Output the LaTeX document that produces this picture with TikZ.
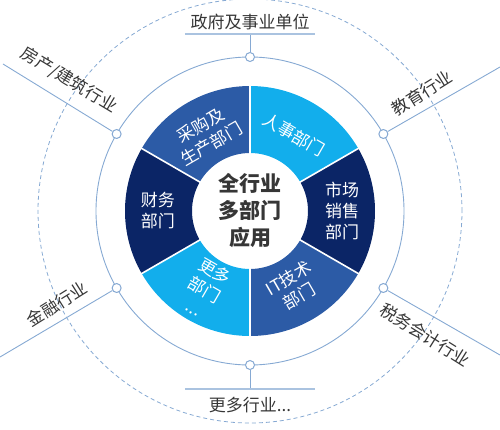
\documentclass[tikz,border=0pt]{standalone}
\usepackage{fontspec}
\setmainfont{Noto Sans CJK SC}
\usepackage{tikz}
\usepackage{xcolor}
\definecolor{lightsky}{HTML}{12AEEC}
\definecolor{midblue}{HTML}{2C5BA6}
\definecolor{deepnavy}{HTML}{0B2566}
\definecolor{ringline}{HTML}{86A9D3}
\definecolor{labelgray}{HTML}{363636}

\tikzset{
  marker/.style={circle,draw=ringline,fill=white,line width=1pt,inner sep=0pt,minimum size=9pt},
  seglabel/.style={white,align=center,font=\fontsize{17}{21}\selectfont},
  trade/.style={labelgray,font=\fontsize{17}{20}\selectfont,inner sep=1pt},
  guide/.style={ringline,line width=0.9pt},
}

\begin{document}
\begin{tikzpicture}[x=1pt,y=1pt]
  \useasboundingbox (-250,-218) rectangle (250,211);
  % rings
  \draw[ringline,dash pattern=on 4pt off 3pt,line width=0.8pt] (0,0) circle[radius=212];
  \draw[guide] (0,0) circle[radius=154];
  % donut
  \fill[midblue] (90:125) arc[start angle=90,end angle=150,radius=125] -- (150:58) arc[start angle=150,end angle=90,radius=58] -- cycle;
  \fill[lightsky] (30:125) arc[start angle=30,end angle=90,radius=125] -- (90:58) arc[start angle=90,end angle=30,radius=58] -- cycle;
  \fill[deepnavy] (-30:125) arc[start angle=-30,end angle=30,radius=125] -- (30:58) arc[start angle=30,end angle=-30,radius=58] -- cycle;
  \fill[midblue] (-90:125) arc[start angle=-90,end angle=-30,radius=125] -- (-30:58) arc[start angle=-30,end angle=-90,radius=58] -- cycle;
  \fill[lightsky] (-150:125) arc[start angle=-150,end angle=-90,radius=125] -- (-90:58) arc[start angle=-90,end angle=-150,radius=58] -- cycle;
  \fill[deepnavy] (150:125) arc[start angle=150,end angle=210,radius=125] -- (210:58) arc[start angle=210,end angle=150,radius=58] -- cycle;
  \draw[white,line width=1.6pt] (90:56) -- (90:127);
  \draw[white,line width=1.6pt] (30:56) -- (30:127);
  \draw[white,line width=1.6pt] (-30:56) -- (-30:127);
  \draw[white,line width=1.6pt] (-90:56) -- (-90:127);
  \draw[white,line width=1.6pt] (-150:56) -- (-150:127);
  \draw[white,line width=1.6pt] (150:56) -- (150:127);
  \node[labelgray,align=center,font=\bfseries\fontsize{21}{27}\selectfont] (hub) at (0,0) {全行业\\多部门\\应用};
  \node[seglabel,rotate=30] (caigou) at (120:88) {采购及\\生产部门};
  \node[seglabel,rotate=-30] (renshi) at (60:88) {人事部门};
  \node[seglabel] (shichang) at (0:92) {市场\\销售\\部门};
  \node[seglabel,rotate=30] (itdept) at (-60:88) {IT技术\\部门};
  \node[seglabel,rotate=-30] (gengduo) at (-120:90) {更多\\部门\\...};
  \node[seglabel] (caiwu) at (180:92) {财务\\部门};
  % industries
  \node[marker] (mtop) at (90:154) {};
  \node[marker] (mfang) at (150:154) {};
  \node[marker] (medu) at (30:154) {};
  \node[marker] (mjin) at (210:154) {};
  \node[marker] (mtax) at (-30:154) {};
  \node[marker] (mbot) at (-90:154) {};
  \coordinate (efang) at (-247,147);
  \coordinate (eedu) at (250,144);
  \coordinate (ejin) at (-250,-146);
  \coordinate (etax) at (250,-144);
  \coordinate (utop) at (0,177);
  \coordinate (utopl) at (-65,177);
  \coordinate (utopr) at (65,177);
  \coordinate (ubot) at (0,-178);
  \coordinate (ubotl) at (-65,-178);
  \coordinate (ubotr) at (65,-178);
  \draw[guide] (mfang) -- (efang);
  \draw[guide] (medu) -- (eedu);
  \draw[guide] (mjin) -- (ejin);
  \draw[guide] (mtax) -- (etax);
  \draw[guide] (mtop) -- (utop);
  \draw[guide] (mbot) -- (ubot);
  \draw[ringline!70,line width=1.2pt] (utopl) -- (utopr);
  \draw[ringline!70,line width=1.2pt] (ubotl) -- (ubotr);
  \node[trade,rotate=-31] (lfang) at (-181,131) {房产/建筑行业};
  \node[trade,rotate=32] (ledu) at (172,118) {教育行业};
  \node[trade,rotate=32] (ljin) at (-193,-93) {金融行业};
  \node[trade,rotate=-32] (ltax) at (175,-124) {税务会计行业};
  \node[trade] (ltop) at (0,189) {政府及事业单位};
  \node[trade] (lbot) at (0,-194) {更多行业...};
\end{tikzpicture}
\end{document}
